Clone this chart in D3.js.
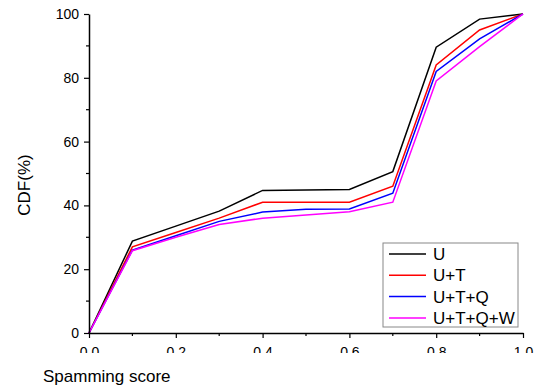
<!DOCTYPE html>
<html>
<head>
<meta charset="utf-8">
<script src="https://cdn.jsdelivr.net/npm/d3@7"></script>
<style>
  body { margin: 0; background: #fff; }
  text { font-family: Arial, "Liberation Sans", sans-serif; }
</style>
</head>
<body>
<div id="chart"></div>
<script>
// data
var scores = [0, 0.1, 0.2, 0.3, 0.4, 0.5, 0.6, 0.7, 0.8, 0.9, 1.0];
var seriesNames = ["U", "U+T", "U+T+Q", "U+T+Q+W"];
var seriesColors = ["#000000", "#ff0000", "#0000ff", "#ff00ff"];
var cdfU       = [0, 28.8, 33.5, 38.2, 44.7, 44.8, 45.0, 50.6, 89.6, 98.4, 100];
var cdfUT      = [0, 27.0, 31.5, 36.0, 41.0, 41.0, 41.0, 46.0, 84.0, 95.0, 100];
var cdfUTQ     = [0, 26.0, 30.5, 35.0, 37.9, 38.8, 38.9, 43.8, 82.0, 92.2, 100];
var cdfUTQW    = [0, 25.8, 30.0, 34.0, 36.0, 37.0, 38.0, 41.0, 79.0, 89.8, 100];
var xTicks = [0, 0.2, 0.4, 0.6, 0.8, 1.0];
var yTicks = [0, 20, 40, 60, 80, 100];

var allSeries = [cdfU, cdfUT, cdfUTQ, cdfUTQW];

var W = 539, H = 387;
var margin = { top: 14, left: 89, right: 16, bottom: 54 };
var width = W - margin.left - margin.right,
    height = H - margin.top - margin.bottom;

var svg = d3.select("#chart").append("svg")
    .attr("width", W).attr("height", H);

var g = svg.append("g")
    .attr("transform", "translate(" + margin.left + "," + margin.top + ")");

var x = d3.scaleLinear().domain([0, 1]).range([0, width]);
var y = d3.scaleLinear().domain([0, 100]).range([height, 0]);

// the x tick labels are cut off in the original
svg.append("defs").append("clipPath").attr("id", "xclip")
  .append("rect").attr("x", -30).attr("y", -5).attr("width", width + 60).attr("height", 25);

// lines
var line = d3.line()
    .x(function(d, i) { return x(scores[i]); })
    .y(function(d) { return y(d); });

g.selectAll(".cdf")
  .data(allSeries)
  .enter().append("path")
  .attr("class", "cdf")
  .attr("d", line)
  .attr("fill", "none")
  .attr("stroke", function(d, i) { return seriesColors[i]; })
  .attr("stroke-width", 1.5)
  .attr("stroke-linejoin", "miter");

// minor ticks
var xMinor = d3.range(0.1, 1, 0.2);
var yMinor = d3.range(10, 100, 20);

g.selectAll(".xminor").data(xMinor).enter().append("line")
  .attr("x1", function(d) { return x(d); }).attr("x2", function(d) { return x(d); })
  .attr("y1", height).attr("y2", height + 3)
  .attr("stroke", "#000").attr("stroke-width", 1.2);

g.selectAll(".yminor").data(yMinor).enter().append("line")
  .attr("y1", function(d) { return y(d); }).attr("y2", function(d) { return y(d); })
  .attr("x1", 0).attr("x2", -3)
  .attr("stroke", "#000").attr("stroke-width", 1.2);

// axes
var xAxis = g.append("g")
    .attr("transform", "translate(0," + height + ")")
    .call(d3.axisBottom(x).tickValues(xTicks).tickSize(5).tickSizeOuter(0).tickPadding(9)
      .tickFormat(d3.format(".1f")));
xAxis.attr("clip-path", "url(#xclip)");

var yAxis = g.append("g")
    .call(d3.axisLeft(y).tickValues(yTicks).tickSize(5).tickSizeOuter(0).tickPadding(5));

[xAxis, yAxis].forEach(function(a) {
  a.select(".domain").attr("stroke", "#000").attr("stroke-width", 1.5);
  a.selectAll(".tick line").attr("stroke", "#000").attr("stroke-width", 1.2);
  a.selectAll(".tick text").attr("font-size", 14).attr("fill", "#000")
    .style("font-family", "Arial, 'Liberation Sans', sans-serif");
});

// axis titles
svg.append("text")
  .attr("x", 43).attr("y", 382)
  .attr("font-size", 17)
  .text("Spamming score");

svg.append("text")
  .attr("transform", "translate(30,185) rotate(-90)")
  .attr("text-anchor", "middle")
  .attr("font-size", 17)
  .text("CDF(%)");

// legend
var legend = svg.append("g").attr("transform", "translate(383,243)");
legend.append("rect")
  .attr("width", 135).attr("height", 84)
  .attr("fill", "#fff").attr("stroke", "#888").attr("stroke-width", 1);

var items = legend.selectAll(".item")
  .data(seriesNames)
  .enter().append("g")
  .attr("transform", function(d, i) { return "translate(0," + (11 + i * 21.3) + ")"; });

items.append("line")
  .attr("x1", 6).attr("x2", 43).attr("y1", 0).attr("y2", 0)
  .attr("stroke", function(d, i) { return seriesColors[i]; })
  .attr("stroke-width", 1.5);

items.append("text")
  .attr("x", 50).attr("y", 6)
  .attr("font-size", 17)
  .text(function(d) { return d; });
</script>
</body>
</html>
